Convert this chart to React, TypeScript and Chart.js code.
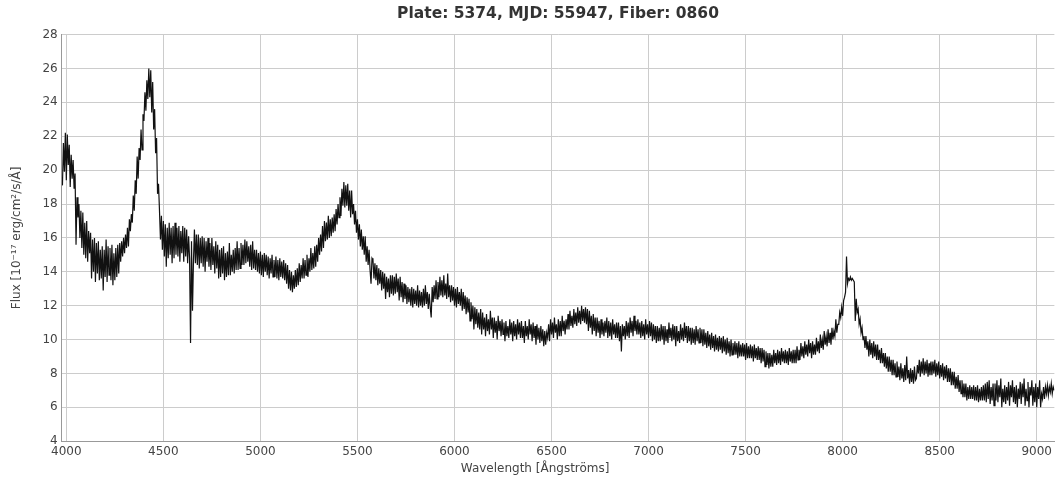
import React, { useEffect, useRef } from "react";
import { Chart, registerables } from "chart.js";

Chart.register(...registerables);

const TITLE = "Plate: 5374, MJD: 55947, Fiber: 0860";
const X_LABEL = "Wavelength [Ångströms]";
const Y_LABEL = "Flux [10⁻¹⁷ erg/cm²/s/Å]";

// sampling grid of the spectrum (Å)
const wavelengthStart = 3980;
const wavelengthStep = 5;

const xTicks = [4000, 4500, 5000, 5500, 6000, 6500, 7000, 7500, 8000, 8500, 9000];
const yTicks = [4, 6, 8, 10, 12, 14, 16, 18, 20, 22, 24, 26, 28];

// flux, 3980–4475 Å (one row = 100 Å)
const fluxA = [
  19.1, 21.6, 19.9, 22.2, 19.4, 22.1, 20.3, 21.5, 19.0, 20.9, 19.5, 20.6, 18.9, 19.8, 15.6, 18.4, 17.2, 18.0, 16.0, 17.6,
  15.4, 17.5, 15.0, 16.9, 14.8, 17.0, 14.6, 16.4, 15.1, 16.3, 13.6, 15.9, 14.0, 16.0, 13.4, 15.7, 13.9, 15.8, 13.5, 15.3,
  13.6, 15.5, 12.9, 15.3, 13.7, 15.9, 13.4, 15.5, 13.8, 15.4, 13.5, 15.6, 13.2, 15.1, 13.5, 15.4, 13.7, 15.6, 13.9, 15.7,
  14.6, 15.8, 14.9, 16.0, 15.1, 16.2, 15.4, 16.6, 15.5, 17.1, 16.4, 17.4, 16.9, 18.5, 17.6, 19.4, 18.6, 20.8, 19.5, 21.3,
  20.6, 22.4, 21.2, 23.3, 22.9, 24.6, 23.5, 25.3, 24.2, 26.0, 24.3, 25.9, 23.4, 25.2, 22.4, 23.6, 21.0, 21.9, 18.6, 19.2,
];
// 4480–4975 Å
const fluxB = [
  17.6, 15.9, 17.3, 15.3, 17.0, 14.9, 16.8, 14.3, 16.6, 14.8, 16.9, 15.0, 16.6, 14.5, 16.7, 14.8, 16.9, 15.0, 16.6, 14.9,
  16.7, 14.6, 16.4, 15.1, 16.7, 14.6, 16.6, 14.9, 16.5, 14.5, 16.1, 14.8, 9.8, 15.8, 11.7, 14.6, 16.5, 14.5, 16.2, 14.4,
  16.2, 14.2, 16.0, 14.5, 16.1, 14.3, 16.0, 14.0, 15.8, 14.6, 16.0, 14.3, 15.7, 14.1, 16.0, 14.4, 15.5, 13.9, 15.8, 14.2,
  15.6, 13.6, 15.3, 13.7, 15.4, 13.9, 15.5, 13.5, 15.1, 13.7, 15.2, 13.8, 15.7, 13.8, 15.0, 14.0, 15.3, 13.9, 15.4, 14.1,
  15.8, 14.1, 15.4, 14.2, 15.7, 14.4, 15.6, 14.4, 15.9, 14.5, 15.8, 14.6, 15.5, 14.3, 15.6, 14.1, 15.8, 14.2, 15.3, 14.1,
];
// 4980–5475 Å
const fluxC = [
  15.3, 14.0, 15.1, 13.9, 15.2, 13.8, 15.0, 13.7, 15.1, 14.0, 15.0, 13.8, 14.9, 13.6, 14.8, 13.9, 15.0, 13.7, 14.7, 13.7,
  14.9, 13.6, 14.7, 13.5, 14.8, 13.7, 14.6, 13.6, 14.7, 13.5, 14.5, 13.3, 14.4, 13.0, 14.1, 12.9, 14.0, 12.8, 13.8, 13.0,
  14.1, 13.1, 14.2, 13.2, 14.5, 13.4, 14.4, 13.6, 14.8, 13.6, 14.7, 13.8, 15.0, 13.7, 14.8, 14.0, 15.4, 14.1, 15.1, 14.2,
  15.5, 14.3, 15.6, 14.6, 16.0, 15.0, 16.2, 15.2, 16.7, 15.4, 17.0, 15.8, 16.9, 15.9, 17.3, 16.0, 17.1, 16.1, 17.2, 16.3,
  17.4, 16.4, 17.7, 16.8, 18.0, 17.2, 18.4, 17.3, 18.9, 17.9, 19.3, 17.8, 19.1, 17.9, 19.2, 17.6, 18.8, 17.2, 18.8, 17.4,
];
// 5480–5975 Å
const fluxD = [
  18.0, 16.8, 17.6, 16.3, 17.1, 15.9, 16.8, 15.5, 16.5, 15.3, 16.1, 15.0, 16.1, 14.6, 15.5, 14.4, 15.3, 14.1, 13.3, 14.8,
  14.7, 13.6, 14.5, 13.5, 14.4, 13.2, 14.2, 13.3, 14.1, 12.9, 14.0, 13.0, 13.9, 12.4, 13.7, 12.8, 13.6, 12.5, 13.8, 12.7,
  13.8, 12.6, 13.7, 12.7, 13.9, 12.8, 13.6, 12.3, 13.7, 12.5, 13.4, 12.2, 13.3, 12.4, 13.2, 12.1, 13.1, 12.2, 13.0, 12.0,
  13.1, 11.9, 13.0, 12.1, 12.9, 12.0, 13.2, 11.9, 12.9, 12.0, 12.8, 11.9, 13.0, 12.0, 13.2, 12.1, 12.8, 11.8, 12.7, 11.9,
  11.3, 13.1, 12.2, 13.2, 12.4, 13.5, 12.4, 13.4, 12.5, 13.7, 12.6, 13.5, 12.5, 13.8, 12.6, 13.3, 12.4, 13.9, 12.5, 13.2,
];
// 5980–6475 Å
const fluxE = [
  12.2, 13.2, 12.3, 13.1, 12.0, 13.0, 11.9, 13.1, 12.1, 12.8, 12.0, 13.0, 11.7, 12.8, 11.8, 12.6, 11.5, 12.5, 11.6, 12.4,
  11.1, 12.2, 11.2, 12.0, 10.6, 11.9, 10.9, 11.8, 10.7, 11.6, 10.6, 11.8, 10.3, 11.6, 10.6, 11.3, 10.2, 11.5, 10.5, 11.2,
  10.3, 11.7, 10.6, 11.3, 10.1, 11.3, 10.4, 11.1, 10.0, 11.4, 10.5, 11.1, 10.2, 11.2, 10.3, 11.0, 9.9, 11.1, 10.2, 10.8,
  10.1, 11.2, 10.3, 11.0, 9.9, 11.1, 10.2, 10.9, 10.0, 11.2, 10.3, 11.0, 10.1, 11.1, 10.1, 10.8, 9.8, 11.1, 10.2, 10.8,
  10.0, 11.2, 10.3, 10.9, 9.9, 11.0, 10.1, 10.8, 9.7, 10.9, 10.0, 10.7, 9.8, 10.8, 9.9, 10.6, 9.6, 10.5, 9.7, 10.4,
];
// 6480–6975 Å
const fluxF = [
  10.1, 10.9, 9.9, 11.2, 10.3, 11.0, 10.1, 11.3, 10.4, 10.9, 10.0, 11.2, 10.2, 11.1, 10.2, 11.4, 10.5, 11.1, 10.3, 11.2,
  10.6, 11.5, 10.6, 11.7, 10.8, 11.4, 10.7, 11.8, 10.9, 11.6, 10.8, 11.9, 11.0, 11.7, 10.9, 12.0, 11.1, 11.8, 11.0, 11.9,
  10.9, 11.8, 10.5, 11.7, 10.7, 11.4, 10.3, 11.5, 10.5, 11.3, 10.2, 11.3, 10.4, 11.1, 10.1, 11.2, 10.3, 11.0, 10.2, 11.1,
  10.4, 11.3, 10.1, 11.1, 10.2, 11.0, 10.0, 11.2, 10.3, 10.9, 10.1, 11.0, 10.1, 11.0, 9.9, 10.8, 9.3, 10.9, 10.2, 10.8,
  10.0, 11.1, 10.2, 11.0, 10.1, 11.3, 10.4, 11.1, 10.2, 11.4, 10.5, 11.1, 10.3, 11.2, 10.3, 11.0, 10.1, 11.1, 10.2, 10.9,
];
// 6980–7475 Å
const fluxG = [
  10.0, 11.2, 10.3, 10.9, 10.1, 11.1, 10.2, 11.0, 9.9, 10.9, 10.0, 10.8, 9.8, 10.8, 9.9, 10.7, 9.9, 10.9, 10.0, 10.8,
  9.7, 10.8, 9.9, 10.6, 9.8, 11.0, 10.1, 10.7, 9.9, 10.9, 10.0, 10.8, 9.6, 10.8, 9.9, 10.5, 9.8, 10.9, 10.0, 10.7,
  9.9, 11.0, 10.1, 10.8, 9.8, 10.8, 9.9, 10.7, 9.7, 10.7, 9.8, 10.6, 9.7, 10.8, 9.9, 10.6, 9.8, 10.7, 9.8, 10.6,
  9.6, 10.6, 9.7, 10.4, 9.5, 10.5, 9.6, 10.3, 9.4, 10.4, 9.5, 10.2, 9.3, 10.3, 9.4, 10.1, 9.3, 10.2, 9.4, 10.1,
  9.2, 10.2, 9.3, 10.0, 9.1, 10.1, 9.2, 9.9, 9.0, 10.0, 9.1, 9.8, 9.1, 9.9, 9.1, 9.8, 8.9, 9.9, 9.0, 9.7,
];
// 7480–7975 Å
const fluxH = [
  9.0, 9.8, 9.0, 9.7, 8.8, 9.8, 8.9, 9.6, 8.9, 9.7, 8.9, 9.6, 8.7, 9.7, 8.9, 9.5, 8.8, 9.6, 8.8, 9.5,
  8.6, 9.5, 8.7, 9.4, 8.4, 9.3, 8.5, 9.2, 8.3, 9.2, 8.4, 9.1, 8.4, 9.4, 8.6, 9.2, 8.5, 9.4, 8.6, 9.3,
  8.5, 9.5, 8.7, 9.3, 8.6, 9.4, 8.6, 9.3, 8.5, 9.5, 8.7, 9.3, 8.6, 9.4, 8.6, 9.4, 8.6, 9.6, 8.8, 9.4,
  8.8, 9.8, 9.0, 9.6, 8.9, 9.9, 9.1, 9.7, 9.0, 10.0, 9.2, 9.8, 8.9, 9.9, 9.1, 9.7, 9.1, 10.1, 9.3, 9.9,
  9.2, 10.3, 9.5, 10.0, 9.4, 10.5, 9.7, 10.2, 9.6, 10.6, 9.8, 10.4, 9.7, 10.7, 10.0, 10.5, 10.2, 11.2, 10.4, 10.9,
];
// 7980–8475 Å
const fluxI = [
  10.9, 11.6, 11.3, 11.9, 11.4, 12.3, 12.5, 12.8, 14.9, 13.3, 13.6, 13.5, 13.7, 13.5, 13.6, 13.5, 13.4, 11.1, 12.4, 11.6,
  11.8, 10.9, 11.2, 10.4, 10.7, 10.0, 10.2, 9.5, 10.2, 9.4, 9.9, 9.0, 10.0, 9.1, 9.8, 8.9, 9.9, 9.0, 9.7, 8.8,
  9.7, 8.8, 9.4, 8.6, 9.5, 8.6, 9.2, 8.4, 9.2, 8.3, 9.0, 8.1, 9.0, 8.1, 8.8, 7.9, 8.8, 7.9, 8.6, 7.8,
  8.7, 7.8, 8.4, 7.6, 8.6, 7.7, 8.3, 7.5, 8.5, 7.6, 9.0, 7.7, 8.2, 7.4, 8.3, 7.5, 8.2, 7.4, 8.4, 7.6,
  7.7, 8.5, 8.0, 8.8, 7.8, 8.7, 8.0, 8.9, 7.9, 8.7, 8.0, 8.8, 7.8, 8.6, 7.9, 8.7, 7.9, 8.7, 8.0, 8.8,
];
// 8480–9090 Å
const fluxJ = [
  7.8, 8.6, 7.9, 8.7, 7.7, 8.5, 7.8, 8.6, 7.6, 8.4, 7.7, 8.5, 7.5, 8.3, 7.5, 8.3, 7.3, 8.1, 7.3, 8.1,
  7.1, 7.8, 7.1, 7.9, 6.9, 7.6, 6.8, 7.6, 6.6, 7.4, 6.6, 7.4, 6.4, 7.2, 6.5, 7.3, 6.5, 7.2, 6.5, 7.3,
  6.4, 7.2, 6.4, 7.3, 6.3, 7.1, 6.4, 7.2, 6.4, 7.3, 6.4, 7.4, 6.3, 7.5, 6.5, 7.6, 6.2, 7.2, 6.4, 7.4,
  6.1, 7.4, 6.4, 7.6, 6.3, 7.3, 6.6, 7.7, 6.0, 7.1, 6.3, 7.3, 6.2, 7.2, 6.4, 7.5, 6.1, 7.3, 6.6, 7.6,
  6.3, 7.2, 6.2, 7.3, 6.0, 7.1, 6.5, 7.5, 6.2, 7.4, 6.6, 7.7, 6.1, 7.1, 6.4, 7.5, 6.0, 7.2, 6.7, 7.6,
  6.1, 7.2, 6.3, 7.4, 6.0, 7.2, 6.5, 7.6, 6.0, 6.8, 6.5, 7.2, 6.5, 7.2, 6.8, 7.3, 6.7, 7.2, 6.9, 7.4, 6.8, 7.2, 7.0,
];

const flux = [
  ...fluxA, ...fluxB, ...fluxC, ...fluxD, ...fluxE,
  ...fluxF, ...fluxG, ...fluxH, ...fluxI, ...fluxJ,
];

const FONT = "'DejaVu Sans', Verdana, sans-serif";
// trailing no-break spaces nudge the centred axis title left, as in the original
const X_TITLE_TEXT = X_LABEL + "\u00A0".repeat(12);

export default function App() {
  const ref = useRef<HTMLCanvasElement | null>(null);

  useEffect(() => {
    if (!ref.current) return;
    const points = flux.map((f, i) => ({ x: wavelengthStart + i * wavelengthStep, y: f }));
    const chart = new Chart(ref.current, {
      type: "line",
      data: {
        datasets: [
          {
            data: points,
            borderColor: "#111111",
            borderWidth: 1.2,
            pointRadius: 0,
            tension: 0,
            fill: false,
          },
        ],
      },
      options: {
        animation: false,
        responsive: false,
        devicePixelRatio: 1,
        layout: { padding: { left: 0, right: 0, top: 0, bottom: 0 } },
        plugins: {
          legend: { display: false },
          tooltip: { enabled: false },
          title: {
            display: true,
            text: TITLE,
            fullSize: false,
            color: "#333333",
            font: { family: FONT, size: 15.5, weight: "bold" },
            padding: { top: 5, bottom: 11 },
          },
        },
        scales: {
          x: {
            type: "linear",
            min: 3976,
            max: 9091,
            afterBuildTicks: (s: any) => {
              s.ticks = xTicks.map((v) => ({ value: v }));
            },
            grid: { color: "#cccccc", drawTicks: false },
            border: { color: "#999999" },
            ticks: {
              color: "#444444",
              font: { family: FONT, size: 12 },
              padding: 3,
              maxRotation: 0,
              autoSkip: false,
              callback: (v: any) => String(v),
            },
            title: {
              display: true,
              text: X_TITLE_TEXT,
              color: "#444444",
              font: { family: FONT, size: 12 },
              padding: { top: 0, bottom: 4 },
            },
          },
          y: {
            type: "linear",
            min: 4,
            max: 28,
            afterBuildTicks: (s: any) => {
              s.ticks = yTicks.map((v) => ({ value: v }));
            },
            grid: { color: "#cccccc", drawTicks: false },
            border: { color: "#999999" },
            ticks: {
              color: "#444444",
              font: { family: FONT, size: 12 },
              padding: 4,
              autoSkip: false,
              callback: (v: any) => String(v),
            },
            title: {
              display: true,
              text: Y_LABEL,
              color: "#444444",
              font: { family: FONT, size: 12 },
              padding: { top: 10, bottom: 14 },
            },
          },
        },
      },
    });
    return () => chart.destroy();
  }, []);

  return (
    <div style={{ position: "absolute", left: 0, top: 0, width: 1055, height: 480, background: "#ffffff" }}>
      <canvas ref={ref} width={1055} height={480} style={{ display: "block" }} />
    </div>
  );
}
